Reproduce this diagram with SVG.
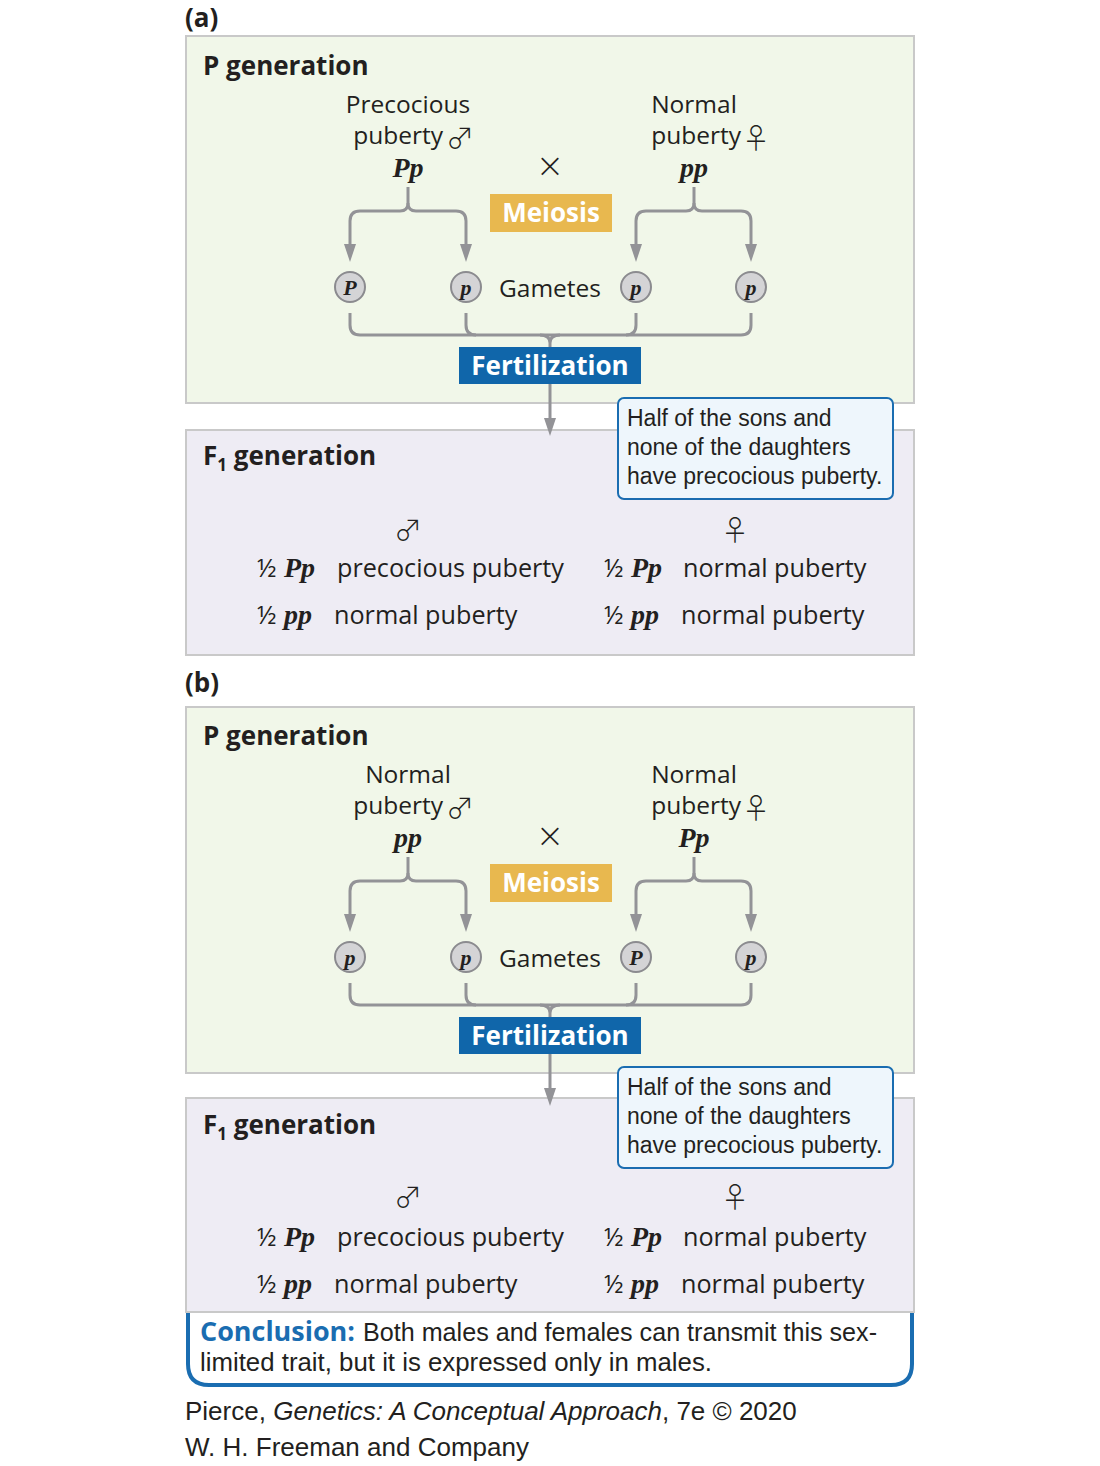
<svg xmlns="http://www.w3.org/2000/svg" width="1100" height="1466" viewBox="0 0 1100 1466">
<style>
.pbox{fill:#f1f7e9;stroke:#c9c9c9;stroke-width:2}
.fbox{fill:#eeecf4;stroke:#c9c9c9;stroke-width:2}
.hdr{font-family:"Open Sans","Liberation Sans",sans-serif;font-weight:bold;font-size:26px;fill:#231f20}
.lab{font-family:"Open Sans","Liberation Sans",sans-serif;font-size:24.5px;fill:#231f20}
.row{font-family:"Open Sans","Liberation Sans",sans-serif;font-size:25.2px;fill:#231f20}
.gen{font-family:"Liberation Serif",serif;font-style:italic;font-weight:bold;font-size:28px;fill:#231f20}
.gl{font-family:"Liberation Serif",serif;font-style:italic;font-weight:bold;font-size:22px;fill:#231f20;text-anchor:middle}
.sym{font-family:"Noto Sans CJK JP","DejaVu Sans",sans-serif;font-weight:300;font-size:28px;fill:#231f20}
.circ{fill:#d4d4d6;stroke:#8b8b8f;stroke-width:2}
.ln{fill:none;stroke:#939397;stroke-width:3}
.ah{fill:#939397}
.btn{font-family:"Open Sans","Liberation Sans",sans-serif;font-weight:bold;font-size:26px;fill:#ffffff;text-anchor:middle}
.call{fill:#eef6fc;stroke:#1a6db1;stroke-width:2}
.ct{font-family:"Liberation Sans",sans-serif;font-size:23px;fill:#231f20}
.cc{font-family:"Liberation Sans",sans-serif;font-size:26px;fill:#231f20}
.cred{font-family:"Liberation Sans",sans-serif;font-size:26px;fill:#231f20}
</style>
<defs>
<marker id="arr" viewBox="0 0 18 12" refX="6" refY="6" markerWidth="18" markerHeight="12" markerUnits="userSpaceOnUse" orient="auto">
<path d="M0,0 L18,6 L0,12 Z" class="ah"/>
</marker>
</defs>

<!-- ===== Panel (a) ===== -->
<text id="label-a" class="hdr" x="185" y="27" font-size="22">(a)</text>
<g id="a-pgen">
<rect class="pbox" x="186" y="36" width="728" height="367"/>
<text class="hdr" x="203" y="75">P generation</text>
</g>
<g id="a-f1gen">
<rect class="fbox" x="186" y="430" width="728" height="225"/>
<text class="hdr" x="203" y="465">F<tspan font-size="17" dy="6">1</tspan><tspan dy="-6"> generation</tspan></text>
</g>
<g id="a-male-parent">
<text class="lab" x="408" y="113" text-anchor="middle">Precocious</text>
<text class="lab" x="443" y="144" text-anchor="end">puberty</text>
<text class="sym" x="446" y="149">♂</text>
<text class="gen" x="408" y="177" text-anchor="middle">Pp</text>
</g>
<g id="a-cross"><text x="550" y="177" text-anchor="middle" font-family="DejaVu Sans, sans-serif" font-weight="200" font-size="34" fill="#231f20">×</text></g>
<g id="a-female-parent">
<text class="lab" x="694" y="113" text-anchor="middle">Normal</text>
<text class="lab" x="741" y="144" text-anchor="end">puberty</text>
<text class="sym" x="742" y="149">♀</text>
<text class="gen" x="694" y="177" text-anchor="middle">pp</text>
</g>
<g id="a-meiosis">
<rect x="490" y="194" width="122" height="38" fill="#e8b84f"/>
<text class="btn" x="551" y="222">Meiosis</text>
</g>
<g id="a-gamete1"><circle class="circ" cx="350" cy="287" r="15"/><text class="gl" x="350" y="295">P</text></g>
<g id="a-gamete2"><circle class="circ" cx="466" cy="287" r="15"/><text class="gl" x="466" y="295">p</text></g>
<g id="a-gametes-label"><text class="lab" x="550" y="297" text-anchor="middle">Gametes</text></g>
<g id="a-gamete3"><circle class="circ" cx="636" cy="287" r="15"/><text class="gl" x="636" y="295">p</text></g>
<g id="a-gamete4"><circle class="circ" cx="751" cy="287" r="15"/><text class="gl" x="751" y="295">p</text></g>
<g id="a-fertilization">
<rect x="459" y="347" width="182" height="37" fill="#1066aa"/>
<text class="btn" x="550" y="375">Fertilization</text>
</g>
<g id="a-callout">
<rect class="call" x="618" y="398" width="275" height="101" rx="6"/>
<text class="ct" x="627" y="426">Half of the sons and</text>
<text class="ct" x="627" y="455">none of the daughters</text>
<text class="ct" x="627" y="484">have precocious puberty.</text>
</g>
<g id="a-offspring">
<text class="sym" x="408" y="541" text-anchor="middle" font-size="41">♂</text>
<text class="sym" x="735" y="541" text-anchor="middle" font-size="41">♀</text>
<text class="row" x="257" y="577">½</text><text class="gen" x="284" y="577">Pp</text><text class="row" x="337" y="577">precocious puberty</text>
<text class="row" x="604" y="577">½</text><text class="gen" x="631" y="577">Pp</text><text class="row" x="683" y="577">normal puberty</text>
<text class="row" x="257" y="624">½</text><text class="gen" x="284" y="624">pp</text><text class="row" x="334" y="624">normal puberty</text>
<text class="row" x="604" y="624">½</text><text class="gen" x="631" y="624">pp</text><text class="row" x="681" y="624">normal puberty</text>
</g>
<g id="a-connectors">
<path class="ln" d="M408,187 V203"/>
<path class="ln" d="M408,203 Q408,211 400,211 H360 Q350,211 350,221 V250" marker-end="url(#arr)"/>
<path class="ln" d="M408,203 Q408,211 416,211 H456 Q466,211 466,221 V250" marker-end="url(#arr)"/>
<path class="ln" d="M694,187 V203"/>
<path class="ln" d="M694,203 Q694,211 686,211 H646 Q636,211 636,221 V250" marker-end="url(#arr)"/>
<path class="ln" d="M694,203 Q694,211 702,211 H741 Q751,211 751,221 V250" marker-end="url(#arr)"/>
<path class="ln" d="M350,313 V325 Q350,335 360,335 H741 Q751,335 751,325 V313"/>
<path class="ln" d="M466,313 V325 Q466,335 476,335"/>
<path class="ln" d="M636,313 V325 Q636,335 626,335"/>
<path class="ln" d="M540,335 Q550,335 550,343 Q550,335 560,335"/>
<path class="ln" d="M550,343 V347"/>
<path class="ln" d="M550,384 V424" marker-end="url(#arr)"/>
</g>

<!-- ===== Panel (b) ===== -->
<text id="label-b" class="hdr" x="185" y="692" font-size="22">(b)</text>
<g id="b-pgen">
<rect class="pbox" x="186" y="707" width="728" height="366"/>
<text class="hdr" x="203" y="745">P generation</text>
</g>
<g id="b-f1gen">
<rect class="fbox" x="186" y="1098" width="728" height="214"/>
<text class="hdr" x="203" y="1134">F<tspan font-size="17" dy="6">1</tspan><tspan dy="-6"> generation</tspan></text>
</g>
<g id="b-male-parent">
<text class="lab" x="408" y="783" text-anchor="middle">Normal</text>
<text class="lab" x="443" y="814" text-anchor="end">puberty</text>
<text class="sym" x="446" y="819">♂</text>
<text class="gen" x="408" y="847" text-anchor="middle">pp</text>
</g>
<g id="b-cross"><text x="550" y="847" text-anchor="middle" font-family="DejaVu Sans, sans-serif" font-weight="200" font-size="34" fill="#231f20">×</text></g>
<g id="b-female-parent">
<text class="lab" x="694" y="783" text-anchor="middle">Normal</text>
<text class="lab" x="741" y="814" text-anchor="end">puberty</text>
<text class="sym" x="742" y="819">♀</text>
<text class="gen" x="694" y="847" text-anchor="middle">Pp</text>
</g>
<g id="b-meiosis">
<rect x="490" y="864" width="122" height="38" fill="#e8b84f"/>
<text class="btn" x="551" y="892">Meiosis</text>
</g>
<g id="b-gamete1"><circle class="circ" cx="350" cy="957" r="15"/><text class="gl" x="350" y="965">p</text></g>
<g id="b-gamete2"><circle class="circ" cx="466" cy="957" r="15"/><text class="gl" x="466" y="965">p</text></g>
<g id="b-gametes-label"><text class="lab" x="550" y="967" text-anchor="middle">Gametes</text></g>
<g id="b-gamete3"><circle class="circ" cx="636" cy="957" r="15"/><text class="gl" x="636" y="965">P</text></g>
<g id="b-gamete4"><circle class="circ" cx="751" cy="957" r="15"/><text class="gl" x="751" y="965">p</text></g>
<g id="b-fertilization">
<rect x="459" y="1017" width="182" height="37" fill="#1066aa"/>
<text class="btn" x="550" y="1045">Fertilization</text>
</g>
<g id="b-callout">
<rect class="call" x="618" y="1067" width="275" height="101" rx="6"/>
<text class="ct" x="627" y="1095">Half of the sons and</text>
<text class="ct" x="627" y="1124">none of the daughters</text>
<text class="ct" x="627" y="1153">have precocious puberty.</text>
</g>
<g id="b-offspring">
<text class="sym" x="408" y="1208" text-anchor="middle" font-size="41">♂</text>
<text class="sym" x="735" y="1208" text-anchor="middle" font-size="41">♀</text>
<text class="row" x="257" y="1246">½</text><text class="gen" x="284" y="1246">Pp</text><text class="row" x="337" y="1246">precocious puberty</text>
<text class="row" x="604" y="1246">½</text><text class="gen" x="631" y="1246">Pp</text><text class="row" x="683" y="1246">normal puberty</text>
<text class="row" x="257" y="1293">½</text><text class="gen" x="284" y="1293">pp</text><text class="row" x="334" y="1293">normal puberty</text>
<text class="row" x="604" y="1293">½</text><text class="gen" x="631" y="1293">pp</text><text class="row" x="681" y="1293">normal puberty</text>
</g>
<g id="b-connectors">
<path class="ln" d="M408,857 V873"/>
<path class="ln" d="M408,873 Q408,881 400,881 H360 Q350,881 350,891 V920" marker-end="url(#arr)"/>
<path class="ln" d="M408,873 Q408,881 416,881 H456 Q466,881 466,891 V920" marker-end="url(#arr)"/>
<path class="ln" d="M694,857 V873"/>
<path class="ln" d="M694,873 Q694,881 686,881 H646 Q636,881 636,891 V920" marker-end="url(#arr)"/>
<path class="ln" d="M694,873 Q694,881 702,881 H741 Q751,881 751,891 V920" marker-end="url(#arr)"/>
<path class="ln" d="M350,983 V995 Q350,1005 360,1005 H741 Q751,1005 751,995 V983"/>
<path class="ln" d="M466,983 V995 Q466,1005 476,1005"/>
<path class="ln" d="M636,983 V995 Q636,1005 626,1005"/>
<path class="ln" d="M540,1005 Q550,1005 550,1013 Q550,1005 560,1005"/>
<path class="ln" d="M550,1013 V1017"/>
<path class="ln" d="M550,1054 V1094" marker-end="url(#arr)"/>
</g>

<g id="conclusion">
<path d="M188,1313 V1364 Q188,1385 209,1385 H891 Q912,1385 912,1364 V1313 Z" fill="#ffffff" stroke="none"/>
<path d="M188,1313 V1364 Q188,1385 209,1385 H891 Q912,1385 912,1364 V1313" fill="none" stroke="#1a6db1" stroke-width="4"/>
<line x1="186" y1="1312" x2="914" y2="1312" stroke="#c9c9c9" stroke-width="2"/>
<text x="200" y="1341" font-family="Open Sans, Liberation Sans, sans-serif" font-weight="bold" font-size="26" fill="#1a6db1" textLength="155" lengthAdjust="spacingAndGlyphs">Conclusion:</text>
<text class="cc" x="363" y="1341" textLength="514" lengthAdjust="spacingAndGlyphs">Both males and females can transmit this sex-</text>
<text class="cc" x="200" y="1371" textLength="512" lengthAdjust="spacingAndGlyphs">limited trait, but it is expressed only in males.</text>
</g>

<g id="credit">
<text class="cred" x="185" y="1420">Pierce, <tspan font-style="italic">Genetics: A Conceptual Approach</tspan>, 7e © 2020</text>
<text class="cred" x="185" y="1456">W. H. Freeman and Company</text>
</g>
</svg>
